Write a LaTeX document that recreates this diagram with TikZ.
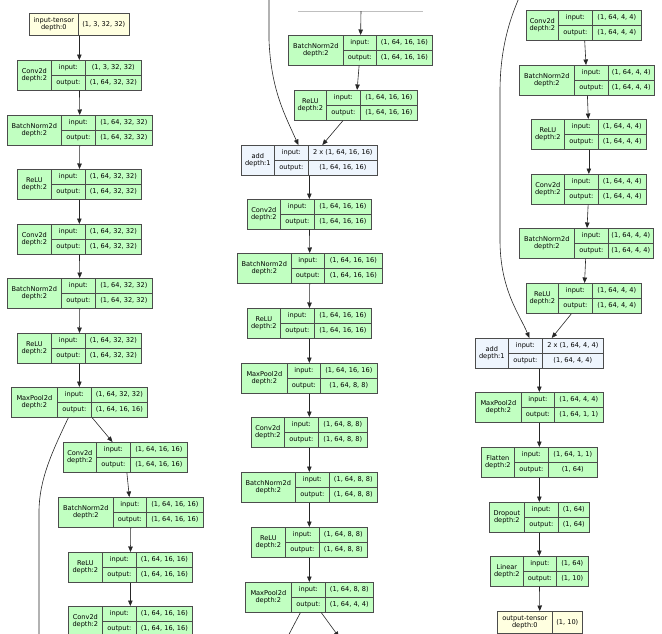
\documentclass[tikz,border=0pt]{standalone}
\usepackage{fontspec}
\setmainfont{DejaVu Sans}
\usetikzlibrary{arrows.meta}

\definecolor{layergreen}{HTML}{C1FFC1}
\definecolor{addblue}{HTML}{EEF5FD}
\definecolor{tensoryellow}{HTML}{FFFFE0}

% record: name, x0, x1, x2, x3, top, label, input shape, output shape
\newcommand{\layerbox}[9]{%
	\node[rec, minimum width=#5-#2, minimum height=30] (#1) at (#2,#6) {};
	\node[cell, minimum width=#3-#2, minimum height=30] (#1-l) at (#2,#6) {#7};
	\node[cell, minimum width=#4-#3, minimum height=15] (#1-ik) at (#3,#6) {input:};
	\node[cell, minimum width=#5-#4, minimum height=15] (#1-iv) at (#4,#6) {#8};
	\node[cell, minimum width=#4-#3, minimum height=15] (#1-ok) at (#3,#6+15) {output:};
	\node[cell, minimum width=#5-#4, minimum height=15] (#1-ov) at (#4,#6+15) {#9};
}

\begin{document}
\begin{tikzpicture}
	[	x=1pt,y=-1pt,
	rec/.style={draw=black!70, line width=.7pt, fill=layergreen, inner sep=0pt, anchor=north west},
	cell/.style={rec, align=center, font=\fontsize{6.6}{7}\selectfont},
	tensor/.style={cell, fill=tensoryellow},
	edge/.style={draw=black!85, line width=.6pt, -{Triangle[length=5.5pt,width=4.5pt]}},
	skip/.style={draw=black!85, line width=.6pt}
	]
	\useasboundingbox (0,0) rectangle (662,633);
	\clip (0,0) rectangle (662,633);

	% first column
	\node[tensor, minimum width=100, minimum height=22] (in) at (29,13) {};
	\node[tensor, minimum width=49, minimum height=22] (in-l) at (29,13) {input-tensor\\depth:0};
	\node[tensor, minimum width=51, minimum height=22] (in-v) at (78,13) {(1, 3, 32, 32)};
	\layerbox{cv1}{17}{51}{85}{141}{60}{Conv2d\\depth:2}{(1, 3, 32, 32)}{(1, 64, 32, 32)}
	\layerbox{bn1}{7}{61}{95}{152}{115}{BatchNorm2d\\depth:2}{(1, 64, 32, 32)}{(1, 64, 32, 32)}
	\layerbox{re1}{17}{51}{85}{141}{169}{ReLU\\depth:2}{(1, 64, 32, 32)}{(1, 64, 32, 32)}
	\layerbox{cv2}{17}{51}{85}{141}{224}{Conv2d\\depth:2}{(1, 64, 32, 32)}{(1, 64, 32, 32)}
	\layerbox{bn2}{7}{61}{95}{152}{278}{BatchNorm2d\\depth:2}{(1, 64, 32, 32)}{(1, 64, 32, 32)}
	\layerbox{re2}{17}{51}{85}{141}{333}{ReLU\\depth:2}{(1, 64, 32, 32)}{(1, 64, 32, 32)}
	\layerbox{mp1}{11}{57}{91}{147}{387}{MaxPool2d\\depth:2}{(1, 64, 32, 32)}{(1, 64, 16, 16)}
	\layerbox{cv3}{63}{96}{130}{187}{442}{Conv2d\\depth:2}{(1, 64, 16, 16)}{(1, 64, 16, 16)}
	\layerbox{bn3}{58}{113}{146}{203}{497}{BatchNorm2d\\depth:2}{(1, 64, 16, 16)}{(1, 64, 16, 16)}
	\layerbox{re3}{68}{102}{136}{192}{552}{ReLU\\depth:2}{(1, 64, 16, 16)}{(1, 64, 16, 16)}
	\layerbox{cv4}{68}{102}{136}{192}{606}{Conv2d\\depth:2}{(1, 64, 16, 16)}{(1, 64, 16, 16)}

	% second column
	\draw[black!25, line width=.6pt] (298,11) -- (423,11);
	\coordinate (top2) at (361,11);
	\layerbox{bn4}{288}{343}{376}{432}{35}{BatchNorm2d\\depth:2}{(1, 64, 16, 16)}{(1, 64, 16, 16)}
	\layerbox{re4}{294}{326}{360}{417}{90}{ReLU\\depth:2}{(1, 64, 16, 16)}{(1, 64, 16, 16)}
	\begin{scope}[rec/.append style={fill=addblue}]
	\layerbox{add2}{241}{274}{308}{377}{145}{add\\depth:1}{2 x (1, 64, 16, 16)}{(1, 64, 16, 16)}
	\end{scope}
	\layerbox{cv5}{247}{280}{314}{371}{199}{Conv2d\\depth:2}{(1, 64, 16, 16)}{(1, 64, 16, 16)}
	\layerbox{bn5}{237}{291}{324}{382}{253}{BatchNorm2d\\depth:2}{(1, 64, 16, 16)}{(1, 64, 16, 16)}
	\layerbox{re5}{247}{280}{314}{371}{308}{ReLU\\depth:2}{(1, 64, 16, 16)}{(1, 64, 16, 16)}
	\layerbox{mp2}{241}{287}{320}{377}{363}{MaxPool2d\\depth:2}{(1, 64, 16, 16)}{(1, 64, 8, 8)}
	\layerbox{cv6}{251}{284}{318}{367}{417}{Conv2d\\depth:2}{(1, 64, 8, 8)}{(1, 64, 8, 8)}
	\layerbox{bn6}{241}{295}{329}{377}{472}{BatchNorm2d\\depth:2}{(1, 64, 8, 8)}{(1, 64, 8, 8)}
	\layerbox{re6}{251}{285}{319}{367}{527}{ReLU\\depth:2}{(1, 64, 8, 8)}{(1, 64, 8, 8)}
	\layerbox{mp3}{245}{291}{325}{373}{582}{MaxPool2d\\depth:2}{(1, 64, 8, 8)}{(1, 64, 4, 4)}

	% third column
	\layerbox{cv7}{526}{558}{592}{641}{10}{Conv2d\\depth:2}{(1, 64, 4, 4)}{(1, 64, 4, 4)}
	\layerbox{bn7}{519}{574}{608}{654}{65}{BatchNorm2d\\depth:2}{(1, 64, 4, 4)}{(1, 64, 4, 4)}
	\layerbox{re7}{531}{564}{598}{646}{119}{ReLU\\depth:2}{(1, 64, 4, 4)}{(1, 64, 4, 4)}
	\layerbox{cv8}{531}{564}{598}{646}{174}{Conv2d\\depth:2}{(1, 64, 4, 4)}{(1, 64, 4, 4)}
	\layerbox{bn8}{519}{574}{608}{653}{228}{BatchNorm2d\\depth:2}{(1, 64, 4, 4)}{(1, 64, 4, 4)}
	\layerbox{re8}{526}{558}{592}{641}{283}{ReLU\\depth:2}{(1, 64, 4, 4)}{(1, 64, 4, 4)}
	\begin{scope}[rec/.append style={fill=addblue}]
	\layerbox{add3}{475}{508}{542}{603}{338}{add\\depth:1}{2 x (1, 64, 4, 4)}{(1, 64, 4, 4)}
	\end{scope}
	\layerbox{mp4}{475}{521}{554}{603}{392}{MaxPool2d\\depth:2}{(1, 64, 4, 4)}{(1, 64, 1, 1)}
	\layerbox{fl}{481}{514}{548}{597}{447}{Flatten\\depth:2}{(1, 64, 1, 1)}{(1, 64)}
	\layerbox{dr}{489}{524}{558}{589}{502}{Dropout\\depth:2}{(1, 64)}{(1, 64)}
	\layerbox{li}{490}{523}{556}{588}{556}{Linear\\depth:2}{(1, 64)}{(1, 10)}
	\node[tensor, minimum width=85, minimum height=22] (out) at (497,611) {};
	\node[tensor, minimum width=55, minimum height=22] (out-l) at (497,611) {output-tensor\\depth:0};
	\node[tensor, minimum width=30, minimum height=22] (out-v) at (552,611) {(1, 10)};

	% connectors
	\foreach \a/\b in {in/cv1, cv1/bn1, bn1/re1, re1/cv2, cv2/bn2, bn2/re2, re2/mp1, mp1/cv3, cv3/bn3, bn3/re3, re3/cv4}
		\draw[edge] (\a) -- (\b);
	\foreach \a/\b in {top2/bn4, bn4/re4, re4/add2, add2/cv5, cv5/bn5, bn5/re5, re5/mp2, mp2/cv6, cv6/bn6, bn6/re6}
		\draw[edge] (\a) -- (\b);
	\draw[edge] (re6) -- (mp3);
	\foreach \a/\b in {cv7/bn7, bn7/re7, re7/cv8, cv8/bn8, bn8/re8, re8/add3, add3/mp4, mp4/fl, fl/dr, dr/li, li/out}
		\draw[edge] (\a) -- (\b);

	% skip connections
	\draw[skip] ([xshift=-11pt]mp1.south) .. controls (52,452) and (39,480) .. (39,512) -- (39,640);
	\draw[edge] (269,-5) -- (269,40) .. controls (271,90) and (285,115) .. ([xshift=-11pt]add2.north);
	\draw[skip] ([xshift=-9pt]mp3.south) -- (286,640);
	\draw[edge] ([xshift=12pt]mp3.south) -- (339,637);
	\draw[edge] (519,-2) .. controls (505,30) and (500,60) .. (500,92) -- (500,240) .. controls (500,290) and (520,315) .. ([xshift=-10pt]add3.north);
\end{tikzpicture}
\end{document}
